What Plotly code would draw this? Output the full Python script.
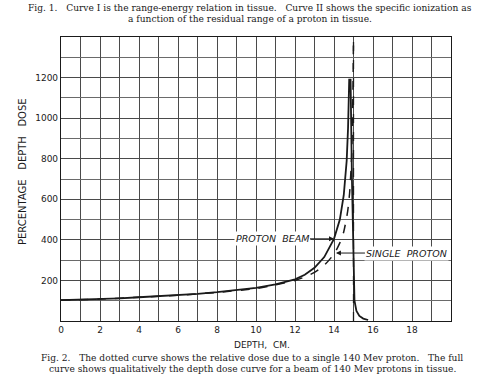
import plotly.graph_objects as go

# Data
beam_x = [0, 1, 2, 3, 4, 5, 6, 7, 8, 9, 10, 11, 12, 12.5, 13, 13.5, 14, 14.3, 14.5, 14.65, 14.72, 14.78, 14.85, 14.92, 15.0, 15.05, 15.15, 15.3, 15.5, 15.75]
beam_y = [103, 105, 108, 112, 117, 122, 128, 134, 142, 151, 163, 180, 205, 228, 262, 315, 405, 500, 620, 790, 950, 1190, 1190, 700, 200, 100, 50, 25, 12, 5]

single_x = [0, 2, 4, 6, 8, 10, 11, 12, 12.5, 13, 13.5, 14, 14.3, 14.5, 14.7, 14.8, 14.9, 14.95, 14.98, 15.0]
single_y = [103, 108, 117, 127, 141, 160, 178, 200, 217, 240, 275, 330, 385, 440, 540, 630, 800, 1000, 1200, 1400]

limit_x = [15.0, 15.0]
limit_y = [0, 1400]

x_ticks = [0, 2, 4, 6, 8, 10, 12, 14, 16, 18]
y_ticks = [200, 400, 600, 800, 1000, 1200]

grid = "#4a4a4a"
ink = "#1a1a1a"

# plot area in pixels
L, R, T, B = 61, 451, 37, 321


def px(xp):
    return (xp - L) / (R - L)


def py(yp):
    return (B - yp) / (B - T)


fig = go.Figure()
fig.add_trace(go.Scatter(x=limit_x, y=limit_y, mode="lines",
                         line=dict(color=ink, width=1.3, dash="dash"), hoverinfo="skip"))
fig.add_trace(go.Scatter(x=single_x, y=single_y, mode="lines",
                         line=dict(color=ink, width=1.5, dash="dash", shape="spline", smoothing=0.6)))
fig.add_trace(go.Scatter(x=beam_x, y=beam_y, mode="lines",
                         line=dict(color=ink, width=1.8)))

tickfont = dict(family="DejaVu Sans", size=9, color=ink)

fig.update_layout(
    width=488, height=375,
    margin=dict(l=L, r=488 - R, t=T, b=375 - B),
    paper_bgcolor="white", plot_bgcolor="white",
    showlegend=False,
    xaxis=dict(range=[0, 20], tickvals=x_ticks, ticktext=[str(v) for v in x_ticks],
               showgrid=True, gridcolor=grid, gridwidth=1,
               minor=dict(dtick=1, showgrid=True, gridcolor=grid, gridwidth=1),
               showline=True, linecolor=ink, linewidth=1.2, mirror=True,
               zeroline=False, ticks="", tickfont=tickfont),
    yaxis=dict(range=[0, 1400], tickvals=y_ticks, ticktext=[str(v) for v in y_ticks],
               showgrid=True, gridcolor=grid, gridwidth=1,
               minor=dict(dtick=100, showgrid=True, gridcolor="#6a6a6a", gridwidth=1),
               showline=True, linecolor=ink, linewidth=1.2, mirror=True,
               zeroline=False, ticks="", tickfont=tickfont),
)

labfont = dict(family="DejaVu Sans", size=9.5, color=ink)
fig.add_annotation(x=14.0, y=405, xref="x", yref="y", text="<i>PROTON  BEAM</i>",
                   showarrow=True, ax=-62, ay=0, arrowhead=2, arrowsize=1, arrowwidth=1,
                   arrowcolor=ink, font=labfont, bgcolor="white")
fig.add_annotation(x=14.1, y=335, xref="x", yref="y", text="<i>SINGLE  PROTON</i>",
                   showarrow=True, ax=71, ay=0, arrowhead=2, arrowsize=1, arrowwidth=1,
                   arrowcolor=ink, font=labfont, bgcolor="white")

fig.add_annotation(x=px(22), y=py(172), xref="paper", yref="paper", text="PERCENTAGE   DEPTH   DOSE",
                   showarrow=False, textangle=-90, xanchor="center", yanchor="middle",
                   font=dict(family="DejaVu Sans", size=10, color=ink))

fig.add_annotation(x=px(262), y=py(345), xref="paper", yref="paper",
                   text="DEPTH,  CM.", showarrow=False, xanchor="center", yanchor="middle",
                   font=dict(family="DejaVu Sans", size=9, color=ink))

capfont = dict(family="DejaVu Serif", size=9.1, color=ink)
captions = [
    (250, 8, "Fig. 1.   Curve I is the range-energy relation in tissue.   Curve II shows the specific ionization as"),
    (250, 19, "a function of the residual range of a proton in tissue."),
    (252, 358, "Fig. 2.   The dotted curve shows the relative dose due to a single 140 Mev proton.   The full"),
    (252, 369, "curve shows qualitatively the depth dose curve for a beam of 140 Mev protons in tissue."),
]
for cx, cy, txt in captions:
    fig.add_annotation(x=px(cx), y=py(cy), xref="paper", yref="paper", xanchor="center",
                       yanchor="middle", text=txt, showarrow=False, font=capfont)

fig.write_html("out.html")
